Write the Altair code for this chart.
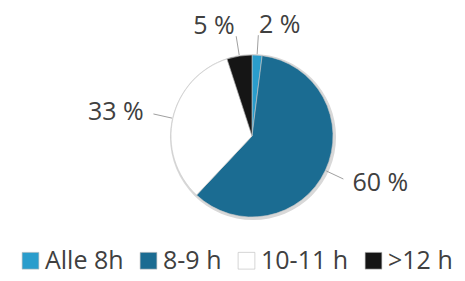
import altair as alt
import pandas as pd

categories = ["Alle 8h", "8-9 h", "10-11 h", ">12 h"]
values = [2, 60, 33, 5]
labels = ["2 %", "60 %", "33 %", "5 %"]
colors = ["#2a9dcc", "#1b6c92", "#ffffff", "#151515"]

df = pd.DataFrame({
    "cat": categories,
    "value": values,
    "label": labels,
    "order": list(range(len(categories))),
})

CX, CY, R = 244, 128, 81
FONT = "Open Sans"
TXT = "#404040"

base = alt.Chart(df)

shadow = alt.Chart(pd.DataFrame({"a": [1]})).mark_arc(
    color="#d8d8d8", outerRadius=R + 2
).encode(x=alt.value(CX + 1), y=alt.value(CY + 1))

pie = base.mark_arc(outerRadius=R, stroke="#c8c8c8", strokeWidth=0.6).encode(
    theta=alt.Theta("value:Q", stack=True),
    order=alt.Order("order:Q"),
    color=alt.Color(
        "cat:N",
        scale=alt.Scale(domain=categories, range=colors),
        sort=categories,
        legend=alt.Legend(
            title=None,
            orient="none",
            direction="horizontal",
            legendX=10,
            legendY=240,
            labelFont=FONT,
            labelFontSize=25,
            labelColor=TXT,
            symbolType="square",
            symbolSize=280,
            symbolStrokeColor="#bbbbbb",
            symbolStrokeWidth=0.6,
            columnPadding=12,
            labelOffset=2,
            labelLimit=200,
        ),
    ),
    x=alt.value(CX),
    y=alt.value(CY),
)

geo = base.transform_window(
    cum="sum(value)", sort=[alt.SortField("order")], frame=[None, 0]
).transform_joinaggregate(total="sum(value)").transform_calculate(
    mid="(datum.cum - datum.value/2)/datum.total*2*PI",
).transform_calculate(
    sx="sin(datum.mid)", sy="-cos(datum.mid)",
).transform_calculate(
    x1=f"{CX} + {R + 1}*datum.sx",
    y1=f"{CY} + {R + 1}*datum.sy",
    x2=f"{CX} + {R + 20}*datum.sx",
    y2=f"{CY} + {R + 20}*datum.sy",
    lx=f"{CX} + {R + 30}*datum.sx",
    ly=f"{CY} + {R + 30}*datum.sy",
    right="datum.sx >= 0",
)

rules = geo.mark_rule(color="#a0a0a0", strokeWidth=1).encode(
    x=alt.X("x1:Q", scale=None),
    y=alt.Y("y1:Q", scale=None),
    x2="x2:Q",
    y2="y2:Q",
)

text_right = geo.transform_filter("datum.right").mark_text(
    align="left", baseline="middle", font=FONT, fontSize=25, color=TXT
).encode(
    x=alt.X("lx:Q", scale=None),
    y=alt.Y("ly:Q", scale=None),
    text="label:N",
)

text_left = geo.transform_filter("!datum.right").mark_text(
    align="right", baseline="middle", font=FONT, fontSize=25, color=TXT
).encode(
    x=alt.X("lx:Q", scale=None),
    y=alt.Y("ly:Q", scale=None),
    text="label:N",
)

chart = alt.layer(shadow, pie, rules, text_right, text_left).properties(
    width=449, height=265, padding=0,
    autosize=alt.AutoSizeParams(type="none"),
).configure(background="white").configure_view(stroke=None)

chart.save("out.html", embed_options={"renderer": "svg", "actions": False})
